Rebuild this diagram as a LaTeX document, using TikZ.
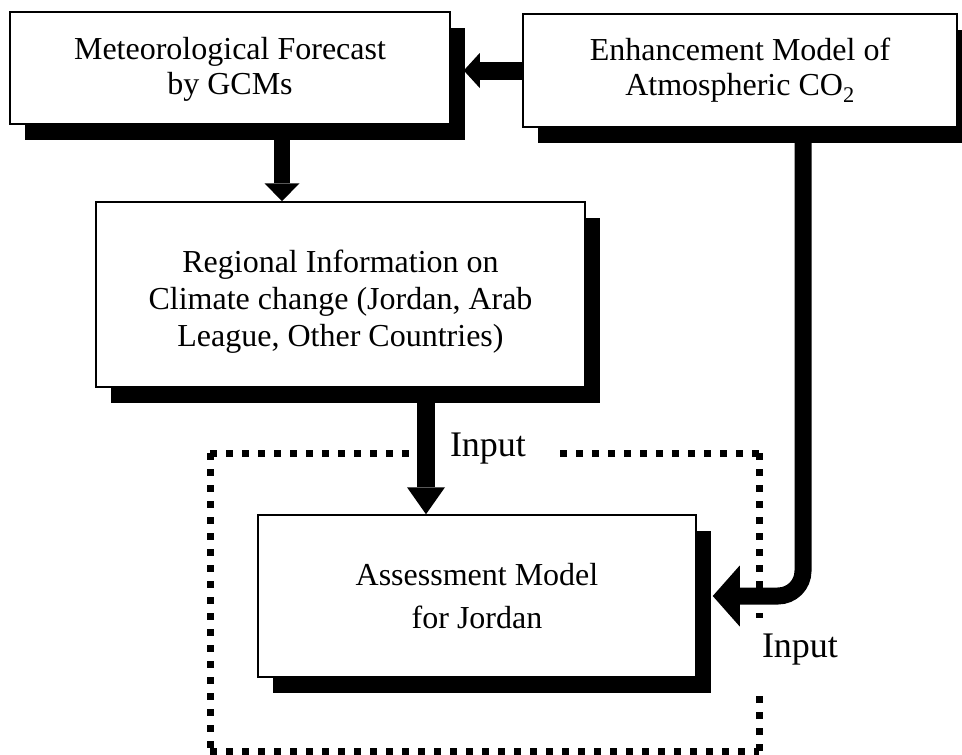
\documentclass[tikz,border=0pt]{standalone}
\usepackage{fontspec}
\setmainfont{Liberation Serif}
\usetikzlibrary{arrows.meta,shadows}
\begin{document}
\begin{tikzpicture}[x=1pt,y=-1pt,
  box/.style={draw=black, line width=1.5pt, fill=white, inner sep=0pt, align=center,
    drop shadow={shadow xshift=15pt, shadow yshift=-16pt, fill=black, opacity=1}},
  flow/.style={line width=17pt},
  lbl/.style={font=\fontsize{36}{40}\selectfont, inner sep=0pt},
  dots/.style={line width=7pt, dash pattern=on 7pt off 9pt}]
\useasboundingbox[fill=white] (0,0) rectangle (962,755);

% boxes
\node[box, minimum width=440pt, minimum height=112pt, font=\fontsize{32}{35}\selectfont]
  (m1) at (230,68) {\rule{0pt}{25pt}Meteorological Forecast\\by GCMs};
\node[box, minimum width=434pt, minimum height=113pt, font=\fontsize{32}{35}\selectfont]
  (e2) at (740,70.5) {Enhancement Model of\\Atmospheric CO\textsubscript{2}};
\node[box, minimum width=489pt, minimum height=185pt, font=\fontsize{32}{37}\selectfont]
  (r3) at (340.5,294.5) {\rule{0pt}{37pt}Regional Information on\\Climate change (Jordan, Arab\\League, Other Countries)};
\node[box, minimum width=438pt, minimum height=162pt, font=\fontsize{32}{43}\selectfont]
  (a4) at (477,596) {Assessment Model\\for Jordan};

% dotted frame
\coordinate (d1) at (210,453);
\coordinate (d2) at (759,453);
\coordinate (d3) at (759,751);
\coordinate (d4) at (210,751);
\draw[dots] (d1) -- (418,453);
\draw[dots] (d1) -- (d4);
\draw[dots] (d4) -- (d3);
\draw[dots] (d3) -- (759,692);
\draw[dots] (d2) -- (560,453);
\draw[dots] (d2) -- (759,618);

% labels
\node[lbl] (in1) at (488,449) {Input};
\node[lbl] (in2) at (800,650) {Input};

% arrows
\coordinate (m1sh) at ([xshift=13pt]m1.east);
\draw[flow, line width=18pt, -{Triangle[width=35pt,length=16pt,line width=0pt]}] (e2.west) -- (m1sh |- e2.west);

\coordinate (a1) at ([xshift=52pt,yshift=-15pt]m1.south);
\draw[flow, line width=16pt, -{Triangle[width=35pt,length=18pt,line width=0pt]}] (a1) -- (a1 |- r3.north);

\coordinate (a2) at ([xshift=85.5pt,yshift=-15pt]r3.south);
\draw[flow, line width=18pt, -{Triangle[width=38pt,length=27pt,line width=0pt]}] (a2) -- (a2 |- a4.north);

\coordinate (b1) at ([xshift=63pt,yshift=-15pt]e2.south);
\coordinate (a4sh) at ([xshift=16pt]a4.east);
\draw[flow, rounded corners=25pt, -{Triangle[width=61pt,length=27pt,line width=0pt]}] (b1) |- (a4sh);
\end{tikzpicture}
\end{document}
